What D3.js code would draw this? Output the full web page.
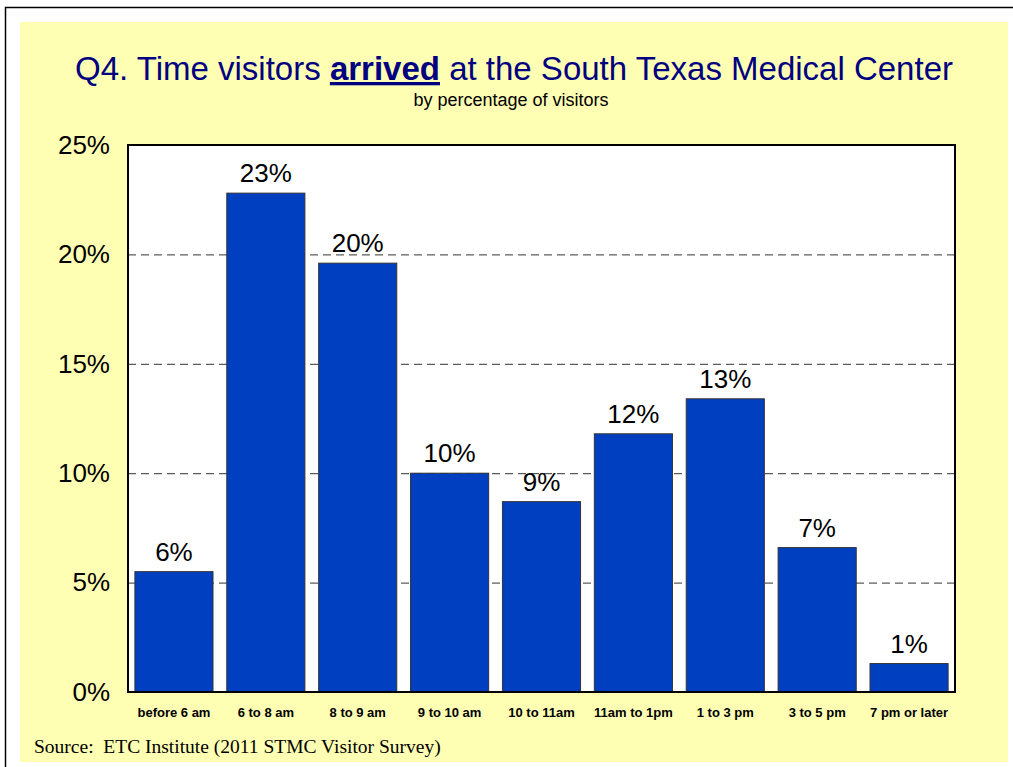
<!DOCTYPE html>
<html>
<head>
<meta charset="utf-8">
<title>Q4. Time visitors arrived</title>
<script src="https://d3js.org/d3.v7.min.js"></script>
<style>
    body { margin: 0; background: #fff; }
    svg { display: block; }
    .grid line { stroke: #333; stroke-width: 1px; stroke-dasharray: 8,5; }
    .grid path { display: none; }
    .yaxis path, .yaxis line, .xaxis path, .xaxis line { display: none; }
</style>
</head>
<body>
<script>
    var categories = ["before 6 am", "6 to 8 am", "8 to 9 am", "9 to 10 am", "10 to 11am",
                      "11am to 1pm", "1 to 3 pm", "3 to 5 pm", "7 pm or later"];
    var values = [5.5, 22.8, 19.6, 10.0, 8.7, 11.8, 13.4, 6.6, 1.3];
    var valueLabels = ["6%", "23%", "20%", "10%", "9%", "12%", "13%", "7%", "1%"];
    var yTicks = [0, 5, 10, 15, 20, 25];

    var width = 1013,
        height = 767;
    var plot = { left: 128, top: 145, right: 955, bottom: 692 };

    var svg = d3.select("body").append("svg")
        .attr("width", width)
        .attr("height", height);

    // slide frame and yellow panel
    svg.append("rect")
        .attr("x", 5.5).attr("y", 7.5)
        .attr("width", 1030).attr("height", 800)
        .attr("fill", "#fff").attr("stroke", "#000").attr("stroke-width", 1.5);
    svg.append("rect")
        .attr("x", 20).attr("y", 22)
        .attr("width", 988).attr("height", 740)
        .attr("fill", "#FFFFB4");

    // title
    var title = svg.append("text")
        .attr("x", 514).attr("y", 80)
        .attr("text-anchor", "middle")
        .style("font-family", "Arial, 'Liberation Sans', sans-serif")
        .style("font-size", "33px")
        .attr("fill", "#000080");
    title.append("tspan").text("Q4. Time visitors ");
    title.append("tspan").text("arrived")
        .style("font-weight", "bold")
        .style("text-decoration", "underline");
    title.append("tspan").text(" at the South Texas Medical Center");

    svg.append("text")
        .attr("x", 511).attr("y", 106)
        .attr("text-anchor", "middle")
        .style("font-family", "Arial, 'Liberation Sans', sans-serif")
        .style("font-size", "18px")
        .attr("fill", "#000")
        .text("by percentage of visitors");

    var x = d3.scaleBand()
        .domain(categories)
        .range([plot.left, plot.right])
        .paddingInner(0.15)
        .paddingOuter(0.075);

    var y = d3.scaleLinear()
        .domain([0, 25])
        .range([plot.bottom, plot.top]);

    // plot background
    svg.append("rect")
        .attr("x", plot.left).attr("y", plot.top)
        .attr("width", plot.right - plot.left)
        .attr("height", plot.bottom - plot.top)
        .attr("fill", "#fff");

    // dashed gridlines
    svg.append("g")
        .attr("class", "grid")
        .attr("transform", "translate(" + plot.left + ",0)")
        .call(d3.axisLeft(y)
            .tickValues(yTicks.filter(function (d) { return d > 0 && d < 25; }))
            .tickSize(-(plot.right - plot.left))
            .tickFormat(""));

    // bars
    svg.selectAll(".bar")
        .data(values)
        .enter().append("rect")
        .attr("class", "bar")
        .attr("x", function (d, i) { return x(categories[i]); })
        .attr("y", function (d) { return y(d); })
        .attr("width", x.bandwidth())
        .attr("height", function (d) { return y(0) - y(d); })
        .attr("fill", "#0040C0")
        .attr("stroke", "#333")
        .attr("stroke-width", 1);

    // value labels
    svg.selectAll(".vlabel")
        .data(values)
        .enter().append("text")
        .attr("class", "vlabel")
        .attr("x", function (d, i) { return x(categories[i]) + x.bandwidth() / 2; })
        .attr("y", function (d) { return y(d) - 11; })
        .attr("text-anchor", "middle")
        .style("font-family", "Arial, 'Liberation Sans', sans-serif")
        .style("font-size", "26px")
        .attr("fill", "#000")
        .text(function (d, i) { return valueLabels[i]; });

    // plot border
    svg.append("rect")
        .attr("x", plot.left).attr("y", plot.top)
        .attr("width", plot.right - plot.left)
        .attr("height", plot.bottom - plot.top)
        .attr("fill", "none")
        .attr("stroke", "#000")
        .attr("stroke-width", 2);

    // y axis labels
    svg.append("g")
        .attr("class", "yaxis")
        .attr("transform", "translate(" + (plot.left - 18) + ",0)")
        .call(d3.axisLeft(y)
            .tickValues(yTicks)
            .tickSize(0)
            .tickPadding(0)
            .tickFormat(function (d) { return d + "%"; }))
        .selectAll("text")
        .style("font-family", "Arial, 'Liberation Sans', sans-serif")
        .style("font-size", "26px")
        .attr("fill", "#000");

    // x axis labels
    svg.append("g")
        .attr("class", "xaxis")
        .attr("transform", "translate(0," + plot.bottom + ")")
        .call(d3.axisBottom(x).tickSize(0).tickPadding(16))
        .selectAll("text")
        .style("font-family", "Arial, 'Liberation Sans', sans-serif")
        .style("font-size", "13px")
        .style("font-weight", "bold")
        .attr("fill", "#000");

    // source note
    svg.append("text")
        .attr("x", 34).attr("y", 753)
        .style("font-family", "'Times New Roman', 'Liberation Serif', serif")
        .style("font-size", "19.5px")
        .attr("fill", "#000")
        .attr("xml:space", "preserve")
        .text("Source:  ETC Institute (2011 STMC Visitor Survey)");
</script>
</body>
</html>
